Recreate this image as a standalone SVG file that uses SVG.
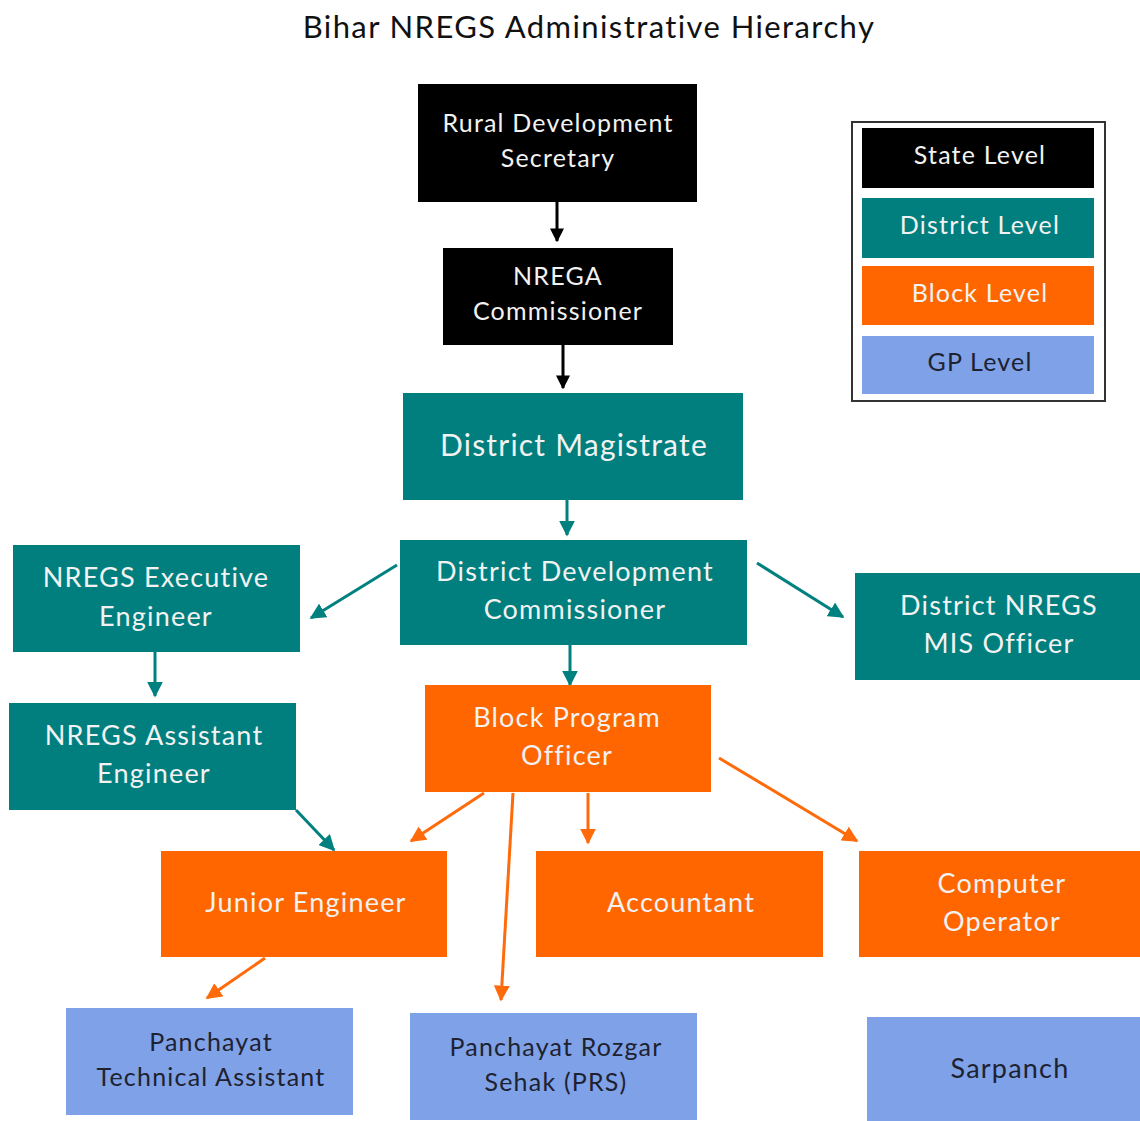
<svg xmlns="http://www.w3.org/2000/svg" width="1140" height="1121" viewBox="0 0 1140 1121">
<defs>
<style>
text{font-family:Lato,"Noto Sans","Liberation Sans",sans-serif;text-anchor:middle;letter-spacing:1.2px}
.t{font-size:25px;fill:#f2f2f2}
.g{font-size:25px;fill:#1e2230}
.black{fill:#000}
.teal{fill:#007f7e}
.orange{fill:#ff6600}
.blue{fill:#7fa1e7}
.ck{stroke:#000;stroke-width:3;fill:none}
.ct{stroke:#00807f;stroke-width:3;fill:none}
.co{stroke:#ff6a0a;stroke-width:3;fill:none}
</style>
<marker id="ak" viewBox="0 0 10 10" refX="9" refY="5" markerWidth="14" markerHeight="14" markerUnits="userSpaceOnUse" orient="auto"><path d="M0,0L10,5L0,10z" fill="#000"/></marker>
<marker id="at" viewBox="0 0 10 10" refX="9" refY="5" markerWidth="16" markerHeight="16" markerUnits="userSpaceOnUse" orient="auto"><path d="M0,0L10,5L0,10z" fill="#00807f"/></marker>
<marker id="ao" viewBox="0 0 10 10" refX="9" refY="5" markerWidth="16" markerHeight="16" markerUnits="userSpaceOnUse" orient="auto"><path d="M0,0L10,5L0,10z" fill="#ff6a0a"/></marker>
</defs>
<rect width="1140" height="1121" fill="#fff"/>
<text x="589" y="38" style="font-size:31px;fill:#111;letter-spacing:1.4px">Bihar NREGS Administrative Hierarchy</text>

<g id="connectors">
<line class="ck" x1="557" y1="202" x2="557" y2="241" marker-end="url(#ak)"/>
<line class="ck" x1="563" y1="345" x2="563" y2="388" marker-end="url(#ak)"/>
<line class="ct" x1="567" y1="500" x2="567" y2="535" marker-end="url(#at)"/>
<line class="ct" x1="397" y1="565" x2="311" y2="618" marker-end="url(#at)"/>
<line class="ct" x1="757" y1="563" x2="843" y2="617" marker-end="url(#at)"/>
<line class="ct" x1="155" y1="652" x2="155" y2="696" marker-end="url(#at)"/>
<line class="ct" x1="570" y1="645" x2="570" y2="685" marker-end="url(#at)"/>
<line class="ct" x1="296" y1="810" x2="334" y2="850" marker-end="url(#at)"/>
<line class="co" x1="484" y1="793" x2="411" y2="841" marker-end="url(#ao)"/>
<line class="co" x1="513" y1="793" x2="501" y2="1000" marker-end="url(#ao)"/>
<line class="co" x1="588" y1="793" x2="588" y2="843" marker-end="url(#ao)"/>
<line class="co" x1="719" y1="758" x2="857" y2="841" marker-end="url(#ao)"/>
<line class="co" x1="265" y1="958" x2="207" y2="998" marker-end="url(#ao)"/>
</g>

<g id="rds"><rect class="black" x="418" y="84" width="279" height="118"/><text class="t" x="558" y="132">Rural Development</text><text class="t" x="558" y="167">Secretary</text></g>
<g id="nc"><rect class="black" x="443" y="248" width="230" height="97"/><text class="t" x="558" y="285">NREGA</text><text class="t" x="558" y="320">Commissioner</text></g>
<g id="dm"><rect class="teal" x="403" y="393" width="340" height="107"/><text class="t" x="574" y="456" style="font-size:30px">District Magistrate</text></g>
<g id="ddc"><rect class="teal" x="400" y="540" width="347" height="105"/><text class="t" x="575" y="581" style="font-size:27px">District Development</text><text class="t" x="575" y="619" style="font-size:27px">Commissioner</text></g>
<g id="nee"><rect class="teal" x="13" y="545" width="287" height="107"/><text class="t" x="156" y="587" style="font-size:27px">NREGS Executive</text><text class="t" x="156" y="626" style="font-size:27px">Engineer</text></g>
<g id="mis"><rect class="teal" x="855" y="573" width="285" height="107"/><text class="t" x="999" y="615" style="font-size:27px">District NREGS</text><text class="t" x="999" y="653" style="font-size:27px">MIS Officer</text></g>
<g id="nae"><rect class="teal" x="9" y="703" width="287" height="107"/><text class="t" x="154" y="745" style="font-size:27px">NREGS Assistant</text><text class="t" x="154" y="783" style="font-size:27px">Engineer</text></g>
<g id="bpo"><rect class="orange" x="425" y="685" width="286" height="107"/><text class="t" x="567" y="727" style="font-size:27px">Block Program</text><text class="t" x="567" y="765" style="font-size:27px">Officer</text></g>
<g id="je"><rect class="orange" x="161" y="851" width="286" height="106"/><text class="t" x="306" y="912" style="font-size:27px">Junior Engineer</text></g>
<g id="acc"><rect class="orange" x="536" y="851" width="287" height="106"/><text class="t" x="681" y="912" style="font-size:27px">Accountant</text></g>
<g id="co"><rect class="orange" x="859" y="851" width="281" height="106"/><text class="t" x="1002" y="893" style="font-size:27px">Computer</text><text class="t" x="1002" y="931" style="font-size:27px">Operator</text></g>
<g id="pta"><rect class="blue" x="66" y="1008" width="287" height="107"/><text class="g" x="211" y="1051">Panchayat</text><text class="g" x="211" y="1086">Technical Assistant</text></g>
<g id="prs"><rect class="blue" x="410" y="1013" width="287" height="107"/><text class="g" x="556" y="1056">Panchayat Rozgar</text><text class="g" x="556" y="1091">Sehak (PRS)</text></g>
<g id="sar"><rect class="blue" x="867" y="1017" width="273" height="104"/><text class="g" x="1010" y="1078" style="font-size:27px">Sarpanch</text></g>

<g id="legend">
<rect x="852" y="122" width="253" height="279" fill="#fff" stroke="#333" stroke-width="2"/>
<rect class="black" x="862" y="128" width="232" height="60"/><text class="t" x="980" y="164">State Level</text>
<rect class="teal" x="862" y="198" width="232" height="60"/><text class="t" x="980" y="234">District Level</text>
<rect class="orange" x="862" y="266" width="232" height="59"/><text class="t" x="980" y="302">Block Level</text>
<rect class="blue" x="862" y="336" width="232" height="58"/><text class="g" x="980" y="371">GP Level</text>
</g>
</svg>
